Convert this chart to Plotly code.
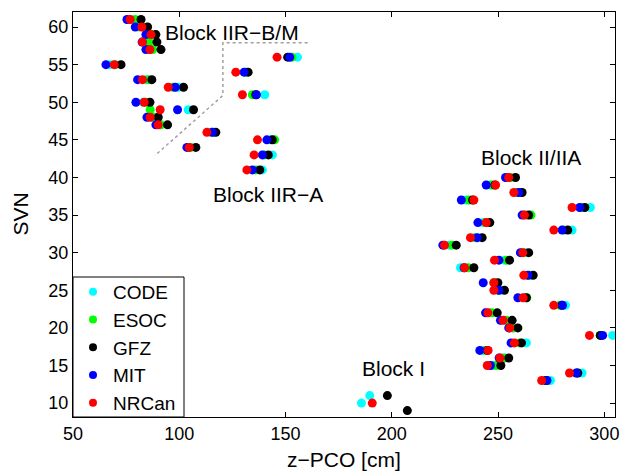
import plotly.graph_objects as go

svn = [9, 10, 11, 13, 14, 15, 16, 17, 18, 19, 20, 21, 22, 23, 24, 25, 26, 27, 28, 29, 30,
       31, 32, 33, 34, 35, 36, 37, 38, 39, 40, 41, 43, 44, 45, 46, 47, 48, 49, 50, 51,
       52, 53, 54, 55, 56, 57, 58, 59, 60, 61]

code = [None, 185.7, 189.6, 274.6, 289.5, 248.0, 252.0, 243.0, 263.3, 303.9, 257.0, 253.0, 246.0, 281.7, 262.0, 251.0, 248.5, 265.0, 232.3, 253.0, 263.0,
        227.0, 240.0, 284.8, 243.0, 263.0, 293.4, 235.0, 260.5, 246.4, 256.0, 139.1, 143.8, 105.0, 143.0, 116.0, 91.0, 87.0, 104.2, 83.0, 140.2,
        99.5, 84.5, 131.0, 67.5, 155.6, 86.0, 84.0, 86.0, 81.0, 77.0]
esoc = [None, None, None, 272.0, 287.0, 249.0, 253.0, 244.0, 260.0, 298.0, 257.0, 254.0, 247.2, 279.0, 263.5, 250.0, 248.0, 264.5, 236.0, 254.0, 262.0,
        228.4, 239.0, 281.0, 244.0, 265.5, 289.0, 236.2, 259.0, 247.0, 255.5, 136.0, 140.0, 105.5, 144.9, 115.0, 91.4, 88.0, 86.3, 84.5, 134.4,
        97.0, 85.5, 131.5, 70.0, 153.0, 87.5, 85.9, 87.5, 83.0, 79.3]
gfz = [207.3, None, 197.9, 272.6, 287.5, 251.3, 255.0, 245.0, 261.0, 298.1, 259.3, 256.6, 249.6, 280.0, 263.3, 253.0, 249.9, 266.5, 238.6, 255.4, 264.4,
       230.3, 242.5, 282.8, 246.1, 264.4, 290.8, 238.0, 261.3, 248.5, 258.2, 137.9, 141.9, 107.8, 143.8, 117.2, 94.5, 90.1, 106.7, 86.2, 136.0,
       102.0, 87.1, 132.4, 72.6, 151.0, 91.4, 89.5, 89.0, 85.1, 82.0]
mit = [None, None, None, 273.0, 286.8, 246.4, 250.5, 241.4, 256.1, 299.2, 255.0, 251.1, 244.1, 280.3, 259.3, 250.4, 243.0, 264.0, 234.0, 250.4, 260.5,
       224.0, 240.2, 280.1, 240.5, 261.3, 288.4, 232.7, 259.7, 244.4, 253.5, 134.4, 139.1, 103.6, 141.2, 115.6, 89.0, 84.8, 99.2, 79.6, 136.3,
       98.1, 80.4, 130.5, 65.5, 152.0, 84.3, 82.5, 84.3, 79.3, 75.4]
nrcan = [None, 190.8, None, 270.5, 283.6, 244.9, 250.8, 245.3, 257.7, 293.0, 255.5, 252.4, 245.2, 276.2, 261.8, 248.0, 248.0, 262.1, 234.2, 248.3, 261.6,
         224.8, 237.0, 276.2, 244.4, 262.4, 284.8, 238.6, 257.4, 248.8, 255.0, 131.8, 135.2, 104.7, 136.8, 113.0, 90.1, 86.3, 91.0, 83.5, 129.7,
         94.8, 82.7, 126.6, 69.4, 146.0, 86.2, 82.7, 86.7, 82.4, 76.9]

series_names = ["CODE", "ESOC", "GFZ", "MIT", "NRCan"]
series_values = [code, esoc, gfz, mit, nrcan]
series_colors = ["#00FFFF", "#00FF00", "#000000", "#0000FF", "#FF0000"]

x_ticks = [50, 100, 150, 200, 250, 300]
y_ticks = [10, 15, 20, 25, 30, 35, 40, 45, 50, 55, 60]

# dotted separator between Block IIR-A and IIR-B/M
sep_x = [160.4, 120.5, 120.5, 88.5]
sep_y = [57.9, 57.9, 50.9, 42.9]

label_texts = ["Block IIR\u2212B/M", "Block IIR\u2212A", "Block II/IIA", "Block I"]
label_x = [124.6, 141.7, 265.7, 201.0]
label_y = [59.3, 37.8, 42.7, 14.6]

FONT = "Liberation Sans, Arial, sans-serif"
W, H = 629, 473
ML, MR, MT, MB = 73, 14, 12, 56
PW, PH = W - ML - MR, H - MT - MB

fig = go.Figure()

fig.add_trace(go.Scatter(x=sep_x, y=sep_y, mode="lines",
                         line=dict(color="#a0a0a0", width=1.5, dash="dot"),
                         showlegend=False, hoverinfo="skip"))

for name, vals, col in zip(series_names, series_values, series_colors):
    fig.add_trace(go.Scatter(x=vals, y=svn, mode="markers", name=name,
                             marker=dict(color=col, size=9, line=dict(width=0)),
                             showlegend=False))

for name, col in zip(series_names, series_colors):
    fig.add_trace(go.Scatter(x=[None], y=[None], mode="markers", name=name,
                             marker=dict(color=col, size=8, line=dict(width=0)),
                             showlegend=True))

for t, x, y in zip(label_texts, label_x, label_y):
    fig.add_annotation(x=x, y=y, text=t, showarrow=False,
                       font=dict(family=FONT, size=21, color="black"))

# axis titles
fig.add_annotation(xref="paper", yref="paper", x=0.5, y=0, yanchor="middle",
                   yshift=-42, text="z\u2212PCO [cm]", showarrow=False,
                   font=dict(family=FONT, size=21, color="black"))
fig.add_annotation(xref="paper", yref="paper", x=(20 - ML) / PW, y=0.5,
                   xanchor="center", yanchor="middle", textangle=-90,
                   text="SVN", showarrow=False,
                   font=dict(family=FONT, size=21, color="black"))

# legend box
fig.add_shape(type="rect", xref="paper", yref="paper", x0=0, y0=0,
              x1=111 / PW, y1=140 / PH, line=dict(color="black", width=1),
              fillcolor="white", layer="above")

axis_common = dict(showgrid=False, zeroline=False, showline=True, linecolor="black",
                   linewidth=1, mirror="ticks", ticks="inside", ticklen=5,
                   tickcolor="black", automargin=False,
                   tickfont=dict(family=FONT, size=18, color="black"))

fig.update_layout(
    width=W, height=H,
    margin=dict(l=ML, r=MR, t=MT, b=MB),
    paper_bgcolor="white", plot_bgcolor="white",
    font=dict(family=FONT, color="black"),
    xaxis=dict(range=[50, 305], tickvals=x_ticks, **axis_common),
    yaxis=dict(range=[8.15, 62], tickvals=y_ticks, **axis_common),
    legend=dict(x=0, y=-5 / PH, xanchor="left", yanchor="bottom",
                borderwidth=0, bgcolor="rgba(0,0,0,0)",
                font=dict(family=FONT, size=19, color="black"),
                itemwidth=30),
    showlegend=True,
)

fig.write_html("out.html")
